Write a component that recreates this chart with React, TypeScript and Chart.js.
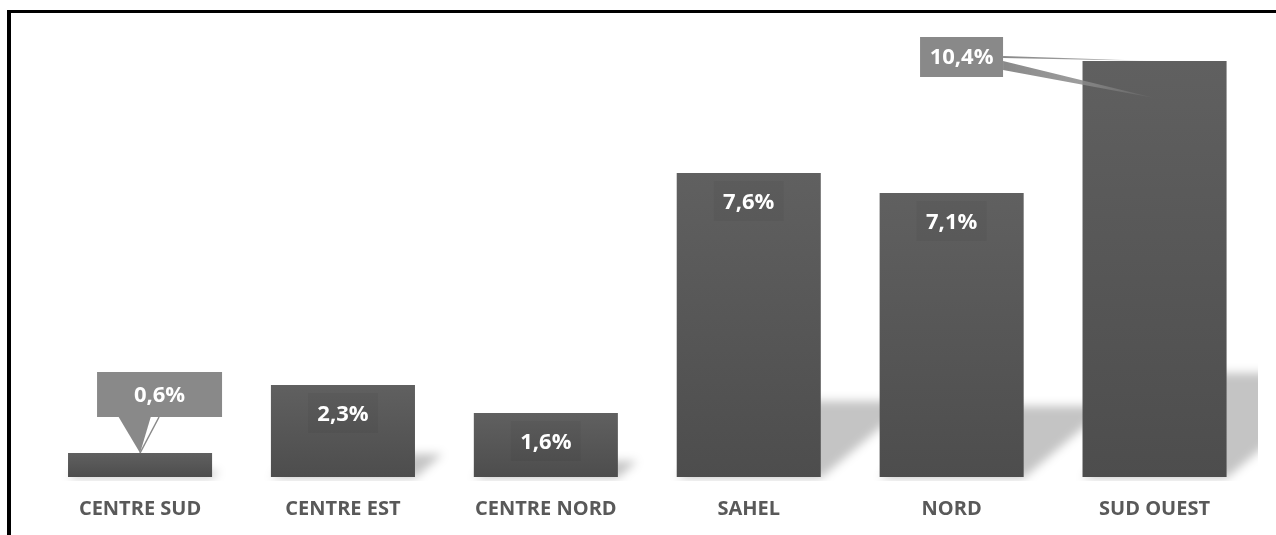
import React, { useEffect, useRef } from "react";
import { Chart, registerables } from "chart.js";

Chart.register(...registerables);

const categories: string[] = ["CENTRE SUD", "CENTRE EST", "CENTRE NORD", "SAHEL", "NORD", "SUD OUEST"];
const values: number[] = [0.6, 2.3, 1.6, 7.6, 7.1, 10.4];
const calloutCategories: string[] = ["CENTRE SUD", "SUD OUEST"];
const yMin = 0;
const yMax = 11;

const FONT = "'Open Sans', 'Noto Sans', sans-serif";

function fmt(v: number): string {
  return v.toFixed(1).replace(".", ",") + "%";
}

const shadowPlugin = {
  id: "barShadow",
  beforeDatasetsDraw(chart: any) {
    const ctx = chart.ctx as CanvasRenderingContext2D;
    const meta = chart.getDatasetMeta(0);
    const area = chart.chartArea;
    ctx.save();
    ctx.beginPath();
    ctx.rect(area.left - 20, area.top - 40, area.right - area.left + 22, area.bottom - area.top + 44);
    ctx.clip();
    ctx.filter = "blur(5px)";
    ctx.fillStyle = "rgba(0,0,0,0.23)";
    meta.data.forEach((el: any) => {
      const { x, y, base, width } = el.getProps(["x", "y", "base", "width"], true);
      const h = base - y;
      const x0 = x - width / 2;
      const x1 = x + width / 2;
      const sh = 0.25 * h;
      const dx = 0.3 * h;
      ctx.beginPath();
      ctx.moveTo(x0, base + 1);
      ctx.lineTo(x1, base + 1);
      ctx.lineTo(x1 + dx, base - sh);
      ctx.lineTo(x0 + dx, base - sh);
      ctx.closePath();
      ctx.fill();
    });
    ctx.restore();
  },
};

const labelPlugin = {
  id: "barLabels",
  afterDatasetsDraw(chart: any) {
    const ctx = chart.ctx as CanvasRenderingContext2D;
    const meta = chart.getDatasetMeta(0);
    ctx.save();
    ctx.font = `bold 22px ${FONT}`;
    ctx.textAlign = "center";
    ctx.textBaseline = "middle";
    meta.data.forEach((el: any, i: number) => {
      const { x, y } = el.getProps(["x", "y"], true);
      const text = fmt(values[i]);
      const cat = categories[i];
      if (!calloutCategories.includes(cat)) {
        ctx.fillStyle = "rgba(0,0,0,0.04)";
        ctx.fillRect(x - 35, y + 8, 70, 40);
        ctx.fillStyle = "#ffffff";
        ctx.fillText(text, x, y + 30);
      } else if (i === 0) {
        const bx = x + 19.5;
        const bw = 125;
        const bh = 45;
        const bBottom = y - 36;
        ctx.fillStyle = "#898989";
        ctx.fillRect(bx - bw / 2, bBottom - bh, bw, bh);
        ctx.beginPath();
        ctx.moveTo(x - 22, bBottom - 1);
        ctx.lineTo(x + 11, bBottom - 1);
        ctx.lineTo(x, y);
        ctx.closePath();
        ctx.fill();
        ctx.strokeStyle = "#898989";
        ctx.lineWidth = 1.5;
        ctx.beginPath();
        ctx.moveTo(x + 19, bBottom);
        ctx.lineTo(x, y);
        ctx.stroke();
        ctx.fillStyle = "#ffffff";
        ctx.fillText(text, bx, bBottom - 21);
      } else {
        const bw = 83;
        const bh = 40;
        const bcx = x - 193;
        const bcy = y - 4;
        const right = bcx + bw / 2;
        const g1 = ctx.createLinearGradient(right, 0, x, 0);
        g1.addColorStop(0, "rgba(137,137,137,1)");
        g1.addColorStop(0.6, "rgba(137,137,137,0.8)");
        g1.addColorStop(1, "rgba(137,137,137,0.1)");
        ctx.fillStyle = g1;
        ctx.beginPath();
        ctx.moveTo(right, y - 5);
        ctx.lineTo(right, y - 3);
        ctx.lineTo(x, y);
        ctx.closePath();
        ctx.fill();
        ctx.beginPath();
        ctx.moveTo(right, y);
        ctx.lineTo(right, y + 9);
        ctx.lineTo(x, y + 37);
        ctx.closePath();
        ctx.fill();
        ctx.fillStyle = "#898989";
        ctx.fillRect(bcx - bw / 2, bcy - bh / 2, bw, bh);
        ctx.fillStyle = "#ffffff";
        ctx.fillText(text, bcx, bcy + 1);
      }
    });
    ctx.restore();
  },
};

export default function App() {
  const canvasRef = useRef<HTMLCanvasElement | null>(null);

  useEffect(() => {
    const canvas = canvasRef.current;
    if (!canvas) return;
    const chart = new Chart(canvas, {
      type: "bar",
      data: {
        labels: categories,
        datasets: [
          {
            data: values,
            backgroundColor: (c: any) => {
              const ch = c.chart;
              const ys = ch.scales && ch.scales.y;
              if (!ys || c.raw === undefined) return "#555555";
              const top = ys.getPixelForValue(c.raw);
              const base = ys.getPixelForValue(0);
              if (!isFinite(top) || !isFinite(base) || top === base) return "#555555";
              const g = ch.ctx.createLinearGradient(0, top, 0, base);
              g.addColorStop(0, "#606060");
              g.addColorStop(1, "#4d4d4d");
              return g;
            },
            borderWidth: 0,
            categoryPercentage: 1,
            barPercentage: 0.71,
          },
        ],
      },
      options: {
        animation: false,
        responsive: false,
        maintainAspectRatio: false,
        devicePixelRatio: 1,
        layout: { padding: { left: 38.6, right: 20, top: 37, bottom: 0 } },
        plugins: {
          legend: { display: false },
          tooltip: { enabled: false },
          title: { display: false },
        },
        scales: {
          x: {
            grid: { display: false, drawTicks: false },
            border: { display: false },
            ticks: {
              color: "#595959",
              font: { family: FONT, size: 20, weight: "bold" },
              padding: 20,
              maxRotation: 0,
              autoSkip: false,
            },
            afterFit: (scale: any) => {
              scale.height = 58;
            },
          },
          y: {
            display: false,
            min: yMin,
            max: yMax,
          },
        },
      },
      plugins: [shadowPlugin, labelPlugin],
    });
    return () => chart.destroy();
  }, []);

  return (
    <div style={{ position: "fixed", left: 0, top: 0, width: 1276, height: 535, overflow: "hidden", background: "#ffffff" }}>
      <div
        style={{
          position: "absolute",
          left: 7,
          top: 10,
          width: 1400,
          height: 700,
          borderLeft: "4px solid #000",
          borderTop: "3px solid #000",
          boxSizing: "border-box",
        }}
      />
      <canvas
        ref={canvasRef}
        width={1276}
        height={535}
        style={{ position: "absolute", left: 0, top: 0, width: 1276, height: 535 }}
      />
    </div>
  );
}
